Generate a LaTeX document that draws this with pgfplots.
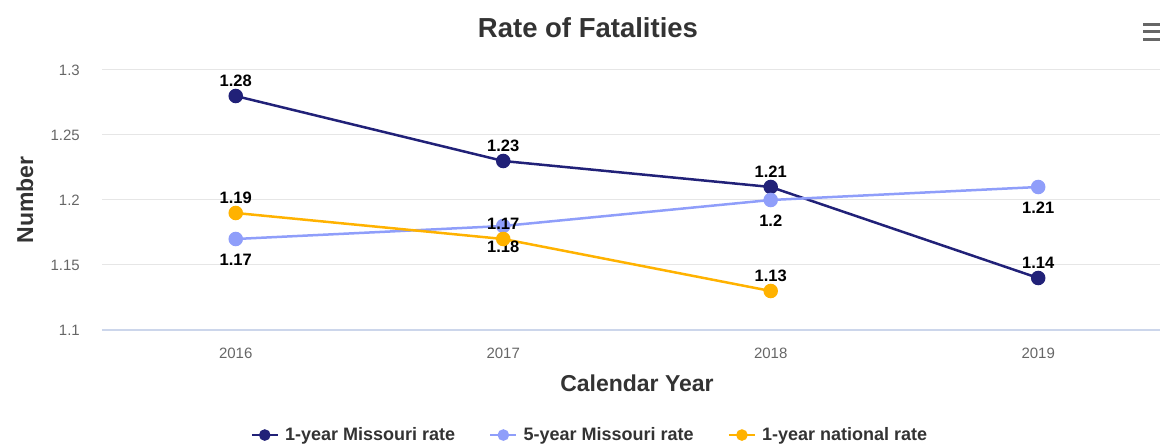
\documentclass[border=0pt]{standalone}
\usepackage{pgfplots}
\pgfplotsset{compat=1.18}
\usepackage{fontspec}
\setmainfont{Liberation Sans}
\definecolor{cDark}{RGB}{33,33,120}
\definecolor{cLight}{RGB}{143,158,250}
\definecolor{cOrange}{RGB}{255,178,0}
\definecolor{cGrid}{RGB}{230,230,230}
\definecolor{cAxis}{RGB}{204,214,235}
\definecolor{cTick}{RGB}{102,102,102}
\definecolor{cText}{RGB}{51,51,51}
\begin{document}
\begin{tikzpicture}
\path[use as bounding box] (0pt,0pt) rectangle (1160pt,444pt);
\node[font=\fontsize{27.5}{31}\selectfont\bfseries, text=cText] at (588pt,416pt) {Rate of Fatalities};
\foreach \yy in {419,412,404} {\draw[cTick, line width=3pt] (1143pt,\yy pt) -- (1162pt,\yy pt);}
\begin{axis}[
  at={(102pt,114pt)}, anchor=south west,
  scale only axis, width=1070pt, height=260pt,
  xmin=-0.5, xmax=3.5, ymin=1.1, ymax=1.3,
  xtick={0,1,2,3}, xticklabels={2016,2017,2018,2019},
  ytick={1.1,1.15,1.2,1.25,1.3},
  yticklabels={1.1,1.15,1.2,1.25,1.3},
  axis x line*=bottom, axis y line*=left,
  y axis line style={draw=none},
  x axis line style={draw=cAxis, line width=1.5pt, -},
  major tick length=0pt, tick style={draw=none},
  ymajorgrids, major grid style={draw=cGrid, line width=1pt},
  /pgf/number format/assume math mode=true,
  yticklabel style={font=\fontsize{15}{18}\selectfont, text=cTick, inner sep=0pt, anchor=east, xshift=-22pt},
  xticklabel style={font=\fontsize{15}{18}\selectfont, text=cTick, inner sep=0pt, anchor=center, yshift=-23pt},
  xlabel={Calendar Year}, ylabel={Number},
  xlabel style={font=\fontsize{23}{27}\selectfont\bfseries, text=cText, at={(axis description cs:0.5,-0.204)}, anchor=center},
  ylabel style={font=\fontsize{23}{27}\selectfont\bfseries, text=cText, at={(axis description cs:-0.072,0.5)}, anchor=center},
  clip=false,
  legend columns=3,
  legend style={at={(axis description cs:0.456,-0.404)}, anchor=center, draw=none, fill=none,
    font=\fontsize{18}{21}\selectfont\bfseries, text=cText,
    /tikz/every even column/.append style={column sep=32pt},
    /tikz/every odd column/.append style={column sep=4pt}},
  legend image code/.code={\draw[mark repeat=2,mark phase=2,#1,mark size=4.5pt] plot coordinates {(0pt,0pt) (13pt,0pt) (26pt,0pt)};},
  every axis plot/.append style={line width=2.5pt, mark=*, mark size=6pt},
  nodes near coords,
  nodes near coords style={font=\fontsize{16.5}{19}\selectfont\bfseries, text=black, anchor=center},
]
\addplot[color=cDark, mark options={fill=cDark, draw=cDark}, nodes near coords style={yshift=15pt}] coordinates {(0,1.28) (1,1.23) (2,1.21) (3,1.14)};
\addlegendentry{1-year Missouri rate}
\addplot[color=cLight, mark options={fill=cLight, draw=cLight}, nodes near coords style={yshift=-21pt}] coordinates {(0,1.17) (1,1.18) (2,1.2) (3,1.21)};
\addlegendentry{5-year Missouri rate}
\addplot[color=cOrange, mark options={fill=cOrange, draw=cOrange}, nodes near coords style={yshift=15pt}] coordinates {(0,1.19) (1,1.17) (2,1.13)};
\addlegendentry{1-year national rate}
\end{axis}
\end{tikzpicture}
\end{document}
